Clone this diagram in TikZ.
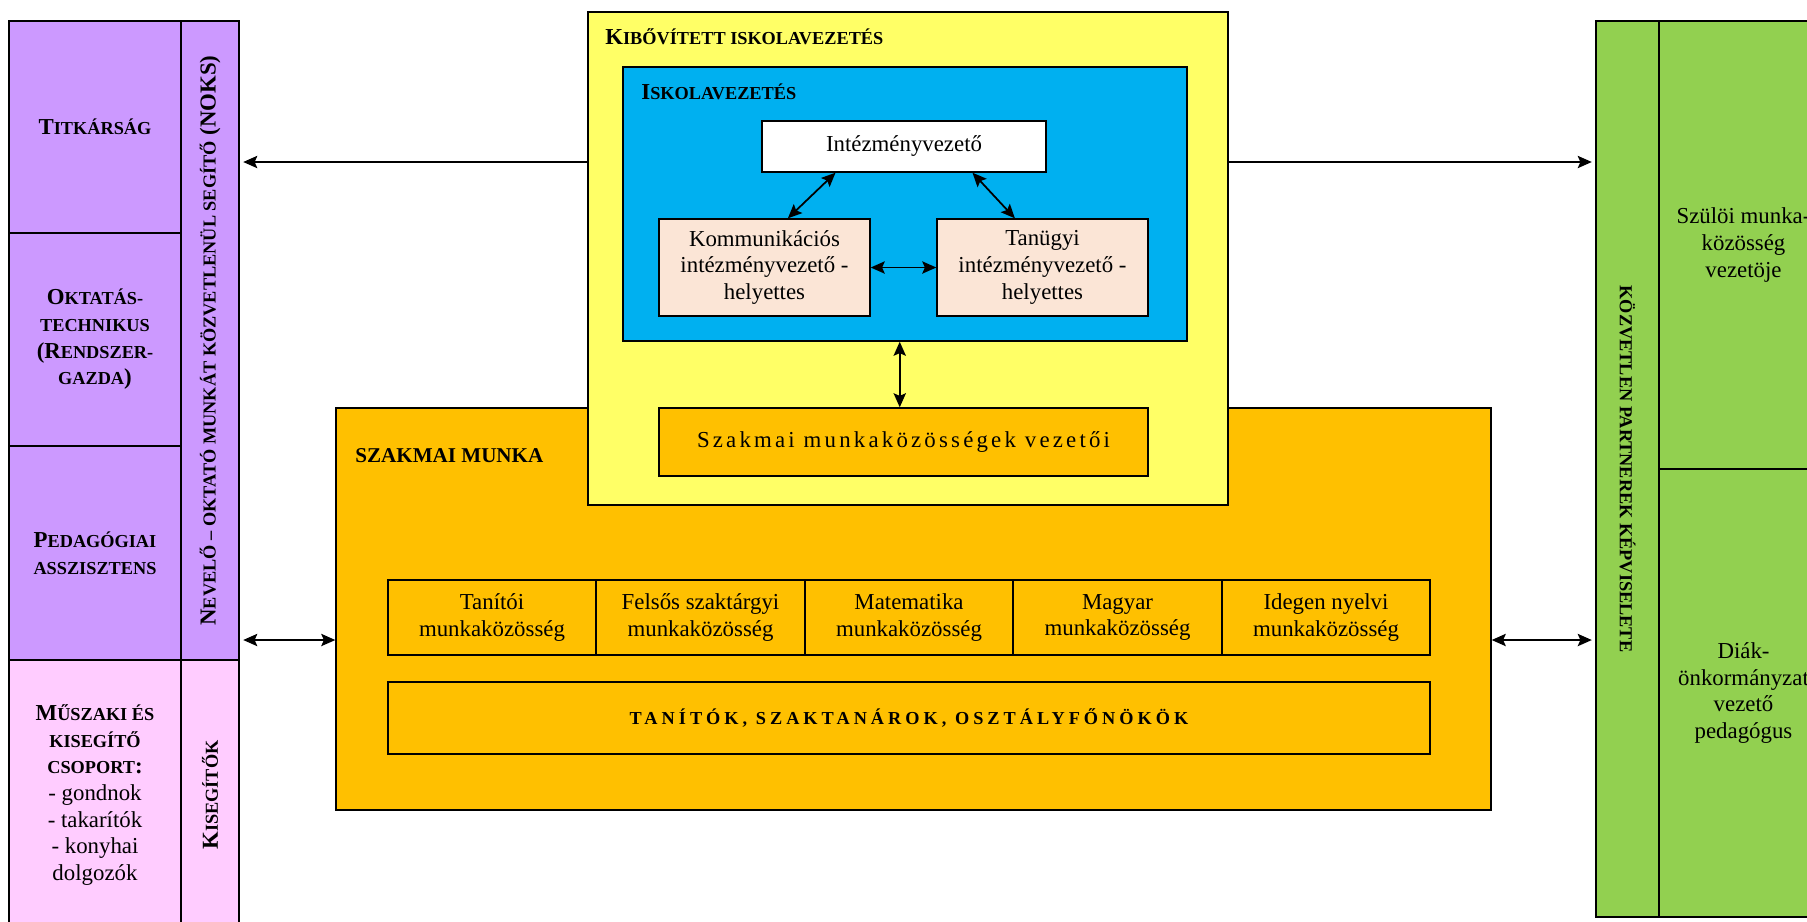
\documentclass[tikz,border=0pt]{standalone}
\usepackage{fontspec}
\setmainfont{Liberation Serif}
\newfontfamily\ritka[LetterSpace=14]{Liberation Serif}
\newfontfamily\ritkab[LetterSpace=22]{Liberation Serif}
\usetikzlibrary{fit,calc,arrows.meta,positioning}

\definecolor{lila}{HTML}{CC99FF}
\definecolor{rozsa}{HTML}{FFCCFF}
\definecolor{zold}{HTML}{92D050}
\definecolor{sarga}{HTML}{FFFF66}
\definecolor{kek}{HTML}{00B0F0}
\definecolor{narancs}{HTML}{FFC000}
\definecolor{barack}{HTML}{FBE5D6}

\newcommand{\kis}[1]{{\fontsize{10.4}{12}\selectfont #1}}

\tikzset{
  doboz/.style={draw, line width=0.8pt, inner sep=0pt},
  felirat/.style={align=center, inner sep=0pt},
  vastag/.style={felirat, font=\fontsize{13}{15.2}\selectfont\bfseries},
  cim/.style={anchor=west, inner sep=0pt, font=\fontsize{13}{15.2}\selectfont\bfseries},
  nyil/.style={-{Stealth[length=8pt,width=7pt,inset=1.5pt]}, line width=1pt},
  kettos/.style={{Stealth[length=8pt,width=7pt,inset=1.5pt]}-{Stealth[length=8pt,width=7pt,inset=1.5pt]}, line width=1pt}
}

\begin{document}
\begin{tikzpicture}[x=0.02cm, y=-0.02cm, font=\fontsize{13}{15.2}\selectfont]
  \useasboundingbox (0,0) rectangle (1807,921);
  \clip (0,0) rectangle (1807,921);

  % Bal oldal
  \node[doboz, fill=lila, fit={(9,21) (181,233)}] (tit) {};
  \node[vastag] (titfel) at (tit.center) {T\kis{ITKÁRSÁG}};
  \node[doboz, fill=lila, fit={(9,233) (181,446)}] (okt) {};
  \node[vastag] (oktfel) at (okt.center) {O\kis{KTATÁS-}\\\kis{TECHNIKUS}\\(R\kis{ENDSZER-}\\\kis{GAZDA})};
  \node[doboz, fill=lila, fit={(9,446) (181,660)}] (ped) {};
  \node[vastag] (pedfel) at (ped.center) {P\kis{EDAGÓGIAI}\\\kis{ASSZISZTENS}};
  \node[doboz, fill=rozsa, fit={(9,660) (181,930)}] (musz) {};
  \node[felirat] (muszfel) at (musz.center) {{\bfseries M\kis{ŰSZAKI ÉS}}\\{\bfseries\kis{KISEGÍTŐ}}\\{\bfseries\kis{CSOPORT}:}\\- gondnok\\- takarítók\\- konyhai\\dolgozók};
  \node[doboz, fill=lila, fit={(181,21) (239,660)}] (noks) {};
  \node[vastag, rotate=90] (noksfel) at (noks.center) {N\kis{EVELŐ – OKTATÓ MUNKÁT KÖZVETLENÜL SEGÍTŐ} (NOKS)};
  \node[doboz, fill=rozsa, fit={(181,660) (239,930)}] (kiseg) {};
  \node[vastag, rotate=90] (kisegfel) at (kiseg.center) {K\kis{ISEGÍTŐK}};

  % Jobb oldal
  \node[doboz, fill=zold, fit={(1596,21) (1659,917)}] (kozv) {};
  \node[rotate=-90, font=\fontsize{10.4}{12}\selectfont\bfseries] (kozvfel) at (kozv.center) {KÖZVETLEN PARTNEREK KÉPVISELETE};
  \node[doboz, fill=zold, fit={(1659,21) (1828,469)}] (szuloi) {};
  \node[felirat] (szuloifel) at (szuloi.center) {Szülöi munka-\\közösség\\vezetöje};
  \node[doboz, fill=zold, fit={(1659,469) (1828,917)}] (diak) {};
  \node[felirat] (diakfel) at (diak.center) {Diák-\\önkormányzat\\vezető\\pedagógus};

  % Szakmai munka
  \node[doboz, fill=narancs, fit={(336,408) (1491,810)}] (szm) {};
  \node[cim, font=\fontsize{12}{14}\selectfont\bfseries] (szmcim) at (355,456) {SZAKMAI MUNKA};
  \node[doboz, fill=narancs, fit={(388,580) (596,655)}] (mk1) {};
  \node[felirat] (mk1fel) at (mk1.center) {Tanítói\\munkaközösség};
  \node[doboz, fill=narancs, fit={(596,580) (805,655)}] (mk2) {};
  \node[felirat] (mk2fel) at (mk2.center) {Felsős szaktárgyi\\munkaközösség};
  \node[doboz, fill=narancs, fit={(805,580) (1013,655)}] (mk3) {};
  \node[felirat] (mk3fel) at (mk3.center) {Matematika\\munkaközösség};
  \node[doboz, fill=narancs, fit={(1013,580) (1222,655)}] (mk4) {};
  \node[felirat] (mk4fel) at (mk4.center) {Magyar\\munkaközösség};
  \node[doboz, fill=narancs, fit={(1222,580) (1430,655)}] (mk5) {};
  \node[felirat] (mk5fel) at (mk5.center) {Idegen nyelvi\\munkaközösség};
  \node[doboz, fill=narancs, fit={(388,682) (1430,754)}] (tan) {};
  \node[felirat, font=\ritkab\bfseries\fontsize{10.4}{12}\selectfont] (tanfel) at (tan.center) {TANÍTÓK, SZAKTANÁROK, OSZTÁLYFŐNÖKÖK};

  % Kibovitett iskolavezetes
  \node[doboz, fill=sarga, fit={(588,12) (1228,505)}] (kib) {};
  \node[cim] (kibcim) at (605,37) {K\kis{IBŐVÍTETT ISKOLAVEZETÉS}};
  \node[doboz, fill=kek, fit={(623,67) (1187,341)}] (isk) {};
  \node[cim] (iskcim) at (641,92) {I\kis{SKOLAVEZETÉS}};
  \node[doboz, fill=white, fit={(762,121) (1046,172)}] (intez) {};
  \node[felirat] (intezfel) at (intez.center) {Intézményvezető};
  \node[doboz, fill=barack, fit={(659,219) (870,316)}] (komm) {};
  \node[felirat] (kommfel) at (komm.center) {Kommunikációs\\intézményvezető -\\helyettes};
  \node[doboz, fill=barack, fit={(937,219) (1148,316)}] (tanu) {};
  \node[felirat] (tanufel) at (tanu.center) {Tanügyi\\intézményvezető -\\helyettes};
  \node[doboz, fill=narancs, fit={(659,408) (1148,476)}] (szmv) {};
  \node[felirat, font=\ritka\fontsize{13}{15.2}\selectfont] (szmvfel) at (szmv.center) {Szakmai munkaközösségek vezetői};

  % Nyilak
  \coordinate (fent) at (0,162);
  \coordinate (lent) at (0,640);
  \draw[nyil] (kib.west |- fent) -- ([xshift=2pt]noks.east |- fent);
  \draw[nyil] (kib.east |- fent) -- ([xshift=-2pt]kozv.west |- fent);
  \draw[kettos] ([xshift=2pt]noks.east |- lent) -- (szm.west |- lent);
  \draw[kettos] (szm.east |- lent) -- ([xshift=-2pt]kozv.west |- lent);
  \draw[kettos] ($(intez.south west)!0.26!(intez.south east)$) -- ($(komm.north west)!0.61!(komm.north east)$);
  \draw[kettos] ($(intez.south west)!0.74!(intez.south east)$) -- ($(tanu.north west)!0.37!(tanu.north east)$);
  \draw[kettos] (komm.east) -- (tanu.west);
  \draw[kettos] ([xshift=-3pt]isk.south) -- ([xshift=-3pt]isk.south |- szmv.north);
\end{tikzpicture}
\end{document}
